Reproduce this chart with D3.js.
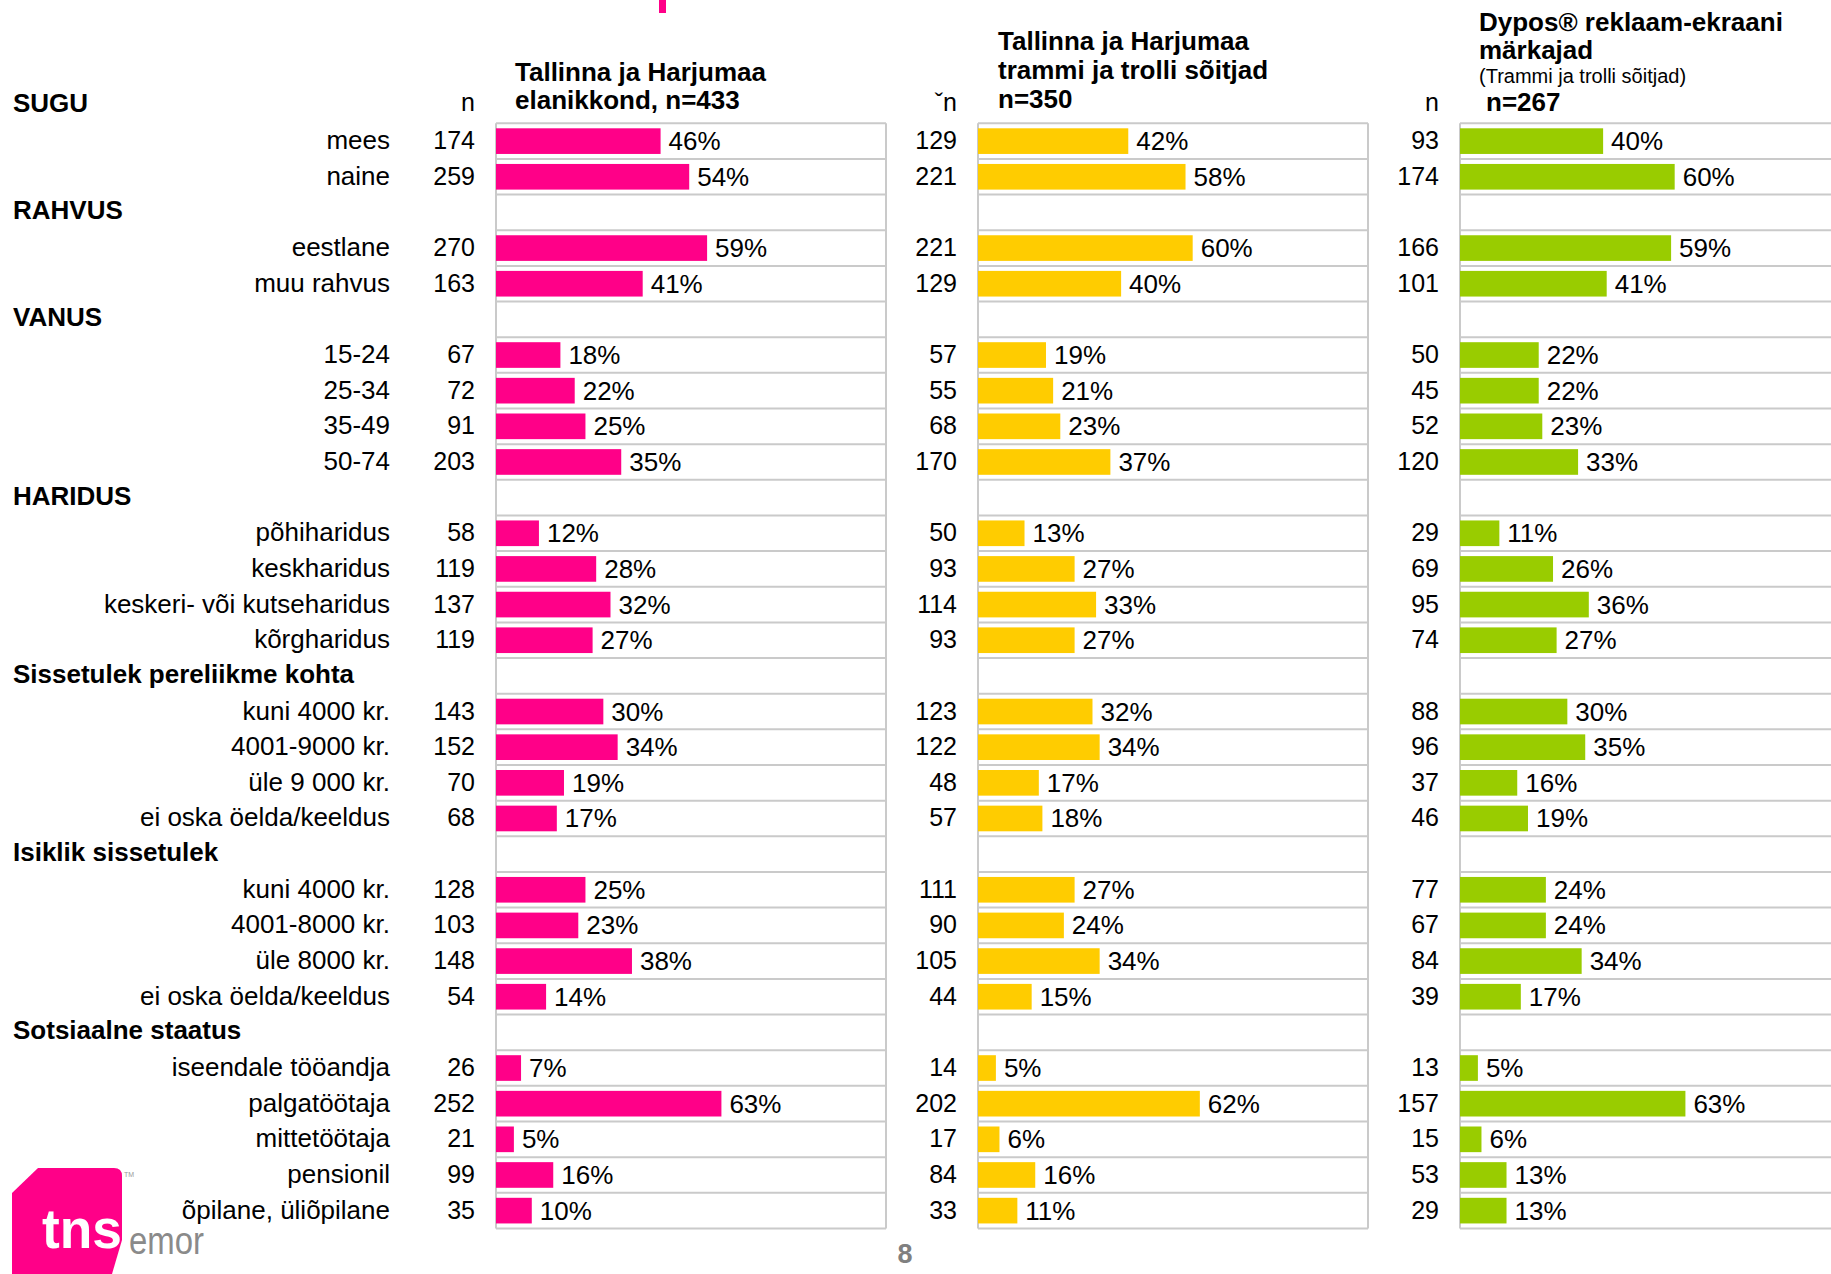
<!DOCTYPE html>
<html>
<head>
<meta charset="utf-8">
<script src="https://cdn.jsdelivr.net/npm/d3@7"></script>
<style>
  body { margin: 0; background: #fff; }
  svg text { font-family: Arial, "Liberation Sans", sans-serif; }
</style>
</head>
<body>
<svg id="chart" width="1831" height="1274"></svg>
<script>
// group headers and the categories under each
var groups = ["SUGU", "RAHVUS", "VANUS", "HARIDUS", "Sissetulek pereliikme kohta", "Isiklik sissetulek", "Sotsiaalne staatus"];
var categories = [
  ["mees", "naine"],
  ["eestlane", "muu rahvus"],
  ["15-24", "25-34", "35-49", "50-74"],
  ["põhiharidus", "keskharidus", "keskeri- või kutseharidus", "kõrgharidus"],
  ["kuni 4000 kr.", "4001-9000 kr.", "üle 9 000 kr.", "ei oska öelda/keeldus"],
  ["kuni 4000 kr.", "4001-8000 kr.", "üle 8000 kr.", "ei oska öelda/keeldus"],
  ["iseendale tööandja", "palgatöötaja", "mittetöötaja", "pensionil", "õpilane, üliõpilane"]
];

// panel 1: Tallinna ja Harjumaa elanikkond
var nPop   = [174, 259, 270, 163, 67, 72, 91, 203, 58, 119, 137, 119, 143, 152, 70, 68, 128, 103, 148, 54, 26, 252, 21, 99, 35];
var pctPop = [46, 54, 59, 41, 18, 22, 25, 35, 12, 28, 32, 27, 30, 34, 19, 17, 25, 23, 38, 14, 7, 63, 5, 16, 10];
// panel 2: trammi ja trolli sõitjad
var nRide   = [129, 221, 221, 129, 57, 55, 68, 170, 50, 93, 114, 93, 123, 122, 48, 57, 111, 90, 105, 44, 14, 202, 17, 84, 33];
var pctRide = [42, 58, 60, 40, 19, 21, 23, 37, 13, 27, 33, 27, 32, 34, 17, 18, 27, 24, 34, 15, 5, 62, 6, 16, 11];
// panel 3: Dypos reklaam-ekraani märkajad
var nDyp   = [93, 174, 166, 101, 50, 45, 52, 120, 29, 69, 95, 74, 88, 96, 37, 46, 77, 67, 84, 39, 13, 157, 15, 53, 29];
var pctDyp = [40, 60, 59, 41, 22, 22, 23, 33, 11, 26, 36, 27, 30, 35, 16, 19, 24, 24, 34, 17, 5, 63, 6, 13, 13];

var titlePop  = ["Tallinna ja Harjumaa", "elanikkond, n=433"];
var titleRide = ["Tallinna ja Harjumaa", "trammi ja trolli sõitjad", "n=350"];
var titleDyp  = ["Dypos® reklaam-ekraani", "märkajad"];
var subDyp = "(Trammi ja trolli sõitjad)";
var nDypLabel = "n=267";

var svg = d3.select("#chart");

// build row list: header row followed by its items
var rows = [], k = 0;
groups.forEach(function(g, gi) {
  rows.push({id: "h" + gi, header: g});
  categories[gi].forEach(function(c, ci) {
    rows.push({id: "r" + gi + "_" + ci, label: c, idx: k});
    k++;
  });
});

var rowH = 35.65;
var y = d3.scaleBand()
  .domain(rows.map(function(d) { return d.id; }))
  .range([123.3 - rowH, 123.3 + rowH * 31]);

var x = d3.scaleLinear().domain([0, 109]).range([0, 390]);

var boxTop = y(rows[1].id), boxBottom = y.range()[1];

var panels = [
  {x0: 496, n: nPop,  p: pctPop,  color: "#ff0088", nHead: "n"},
  {x0: 978, n: nRide, p: pctRide, color: "#ffcc00", nHead: "ˇn"},
  {x0: 1460, n: nDyp, p: pctDyp,  color: "#99cc00", nHead: "n"}
];

var items = rows.filter(function(d) { return d.label !== undefined; });

// row labels
svg.selectAll(".hdr").data(rows.filter(function(d) { return d.header; }))
  .enter().append("text")
  .attr("x", 13)
  .attr("y", function(d) { return y(d.id) + y.bandwidth() / 2 + 7; })
  .style("font-size", "26px").style("font-weight", "bold")
  .text(function(d) { return d.header; });

svg.selectAll(".cat").data(items)
  .enter().append("text")
  .attr("x", 390).attr("text-anchor", "end")
  .attr("y", function(d) { return y(d.id) + y.bandwidth() / 2 + 8; })
  .style("font-size", "26px")
  .text(function(d) { return d.label; });

panels.forEach(function(pn) {
  var g = svg.append("g").attr("transform", "translate(" + pn.x0 + ",0)");

  // grid: one line per row border
  var lines = rows.slice(1).map(function(d) { return y(d.id); }).concat([boxBottom]);
  g.selectAll(".hl").data(lines).enter().append("line")
    .attr("x1", 0).attr("x2", 390)
    .attr("y1", function(d) { return d; }).attr("y2", function(d) { return d; })
    .attr("stroke", "#cacaca").attr("stroke-width", 2);
  [0, 390].forEach(function(vx) {
    g.append("line").attr("x1", vx).attr("x2", vx)
      .attr("y1", boxTop).attr("y2", boxBottom)
      .attr("stroke", "#cacaca").attr("stroke-width", 2);
  });

  g.selectAll(".bar").data(items).enter().append("rect")
    .attr("x", 0)
    .attr("y", function(d) { return y(d.id) + 5; })
    .attr("height", y.bandwidth() - 10)
    .attr("width", function(d) { return x(pn.p[d.idx]); })
    .attr("fill", pn.color);

  g.selectAll(".pct").data(items).enter().append("text")
    .attr("x", function(d) { return x(pn.p[d.idx]) + 8; })
    .attr("y", function(d) { return y(d.id) + y.bandwidth() / 2 + 9; })
    .style("font-size", "26px")
    .text(function(d) { return pn.p[d.idx] + "%"; });

  g.selectAll(".nval").data(items).enter().append("text")
    .attr("x", -21).attr("text-anchor", "end")
    .attr("y", function(d) { return y(d.id) + y.bandwidth() / 2 + 8; })
    .style("font-size", "25px")
    .text(function(d) { return pn.n[d.idx]; });

  g.append("text").attr("x", -21).attr("y", 111).attr("text-anchor", "end")
    .style("font-size", "25px").text(pn.nHead);
});

// panel titles
function title(lines, x0, y0, dy) {
  svg.append("g").selectAll("text").data(lines).enter().append("text")
    .attr("x", x0).attr("y", function(d, i) { return y0 + i * dy; })
    .style("font-size", "26px").style("font-weight", "bold")
    .text(function(d) { return d; });
}
title(titlePop, 515, 81, 27.5);
title(titleRide, 998, 50, 29);
title(titleDyp, 1479, 31, 28);
svg.append("text").attr("x", 1479).attr("y", 83).style("font-size", "20px").text(subDyp);
svg.append("text").attr("x", 1486).attr("y", 111).style("font-size", "26px").style("font-weight", "bold").text(nDypLabel);

// pink mark at top
svg.append("rect").attr("x", 659).attr("y", 0).attr("width", 7).attr("height", 13).attr("fill", "#ff0088");

// page number
svg.append("text").attr("x", 905).attr("y", 1263).attr("text-anchor", "middle")
  .style("font-size", "27px").style("font-weight", "bold").attr("fill", "#808080").text("8");

// tns emor logo
svg.append("path")
  .attr("d", "M12,1193 L38,1168 L114,1168 Q122,1168 122,1176 L122,1240 L112,1274 L12,1274 Z")
  .attr("fill", "#ff0088");
svg.append("text").attr("x", 42).attr("y", 1248)
  .attr("textLength", 80).attr("lengthAdjust", "spacingAndGlyphs")
  .style("font-size", "56px").style("font-weight", "bold").attr("fill", "#fff").text("tns");
svg.append("text").attr("x", 129).attr("y", 1254)
  .attr("textLength", 75).attr("lengthAdjust", "spacingAndGlyphs")
  .style("font-size", "38px").attr("fill", "#8a8a8a").text("emor");
svg.append("text").attr("x", 124).attr("y", 1177)
  .style("font-size", "7px").attr("fill", "#999").text("TM");
</script>
</body>
</html>
